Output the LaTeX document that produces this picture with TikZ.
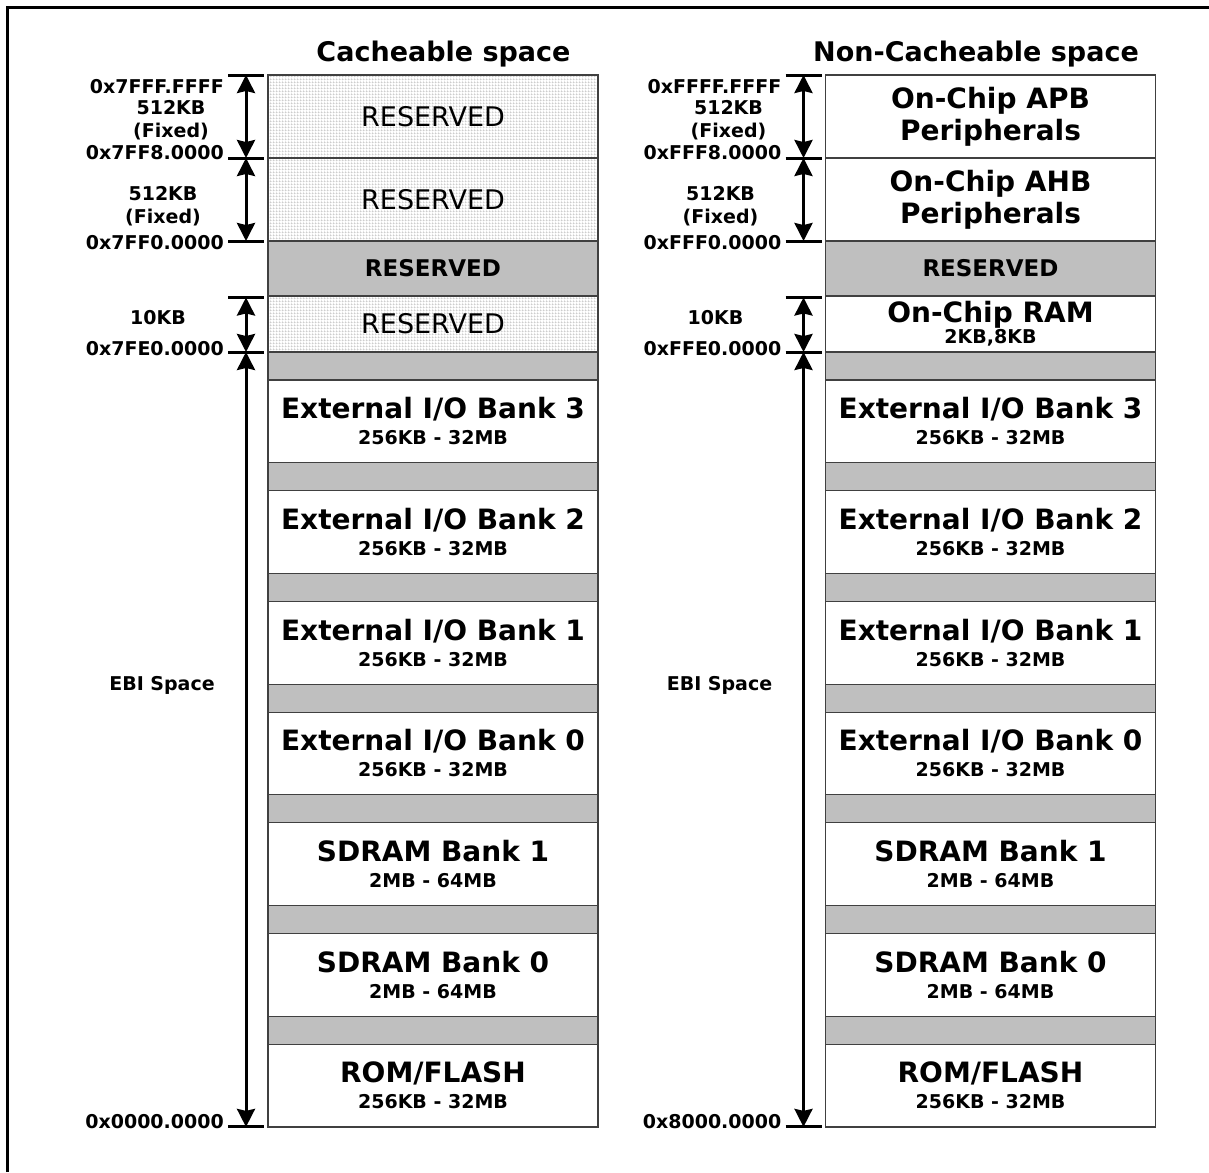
\documentclass[tikz,border=0pt]{standalone}
\usepackage{fontspec}
\setmainfont{DejaVu Sans}
\usetikzlibrary{arrows.meta, positioning, patterns}

\pgfdeclarepatternformonly{finegrid}{\pgfqpoint{0pt}{0pt}}{\pgfqpoint{3pt}{3pt}}{\pgfqpoint{3pt}{3pt}}{
    \pgfsetlinewidth{0.6pt}
    \pgfpathmoveto{\pgfqpoint{0pt}{0.3pt}}\pgfpathlineto{\pgfqpoint{3pt}{0.3pt}}
    \pgfpathmoveto{\pgfqpoint{0.3pt}{0pt}}\pgfpathlineto{\pgfqpoint{0.3pt}{3pt}}
    \pgfusepath{stroke}}

\newcommand{\sizetxt}[1]{{\fontsize{19}{21}\selectfont #1}}

\begin{document}
\begin{tikzpicture}[
            x = 1pt, y = -1pt, % pixel units, y grows downwards
            > = {Stealth[length=18pt, width=18pt, inset=2pt]}, % arrow head style
            font = \bfseries,
            cell/.style = {
                draw = black!75,
                line width = 1.2pt,
                minimum width = 330pt,
                inner sep = 0pt,
                outer sep = 0pt,
                align = center,
                font = \fontsize{28}{26}\selectfont\bfseries
            },
            grayrow/.style = {fill = black!25},
            dotrow/.style = {pattern = finegrid, pattern color = black!30,
                font = \fontsize{27}{30}\selectfont\mdseries},
            boldres/.style = {font = \fontsize{23}{26}\selectfont\bfseries},
            heading/.style = {font = \fontsize{27}{30}\selectfont\bfseries},
            tickline/.style = {line width = 3pt},
            arr/.style = {<->, line width = 3pt},
            addr/.style = {font = \fontsize{19}{23}\selectfont\bfseries,
                inner sep = 0pt, align = center}
        ]

        \useasboundingbox (0,0) rectangle (1209,1172);

        % frame
        \draw[line width = 3pt] (7.5,1172) -- (7.5,7.5) -- (1209,7.5);

        % titles
        \node[heading] (ctitle) at (443.5,54) {Cacheable space};
        \node[heading] (ntitle) at (976,54) {Non-Cacheable space};

        % cacheable space, top rows
        \node[cell, dotrow, minimum height = 83pt, anchor = north] (c1) at (433,75) {RESERVED};
        \node[cell, dotrow, minimum height = 83pt, below = 0pt of c1] (c2) {RESERVED};
        \node[cell, grayrow, boldres, minimum height = 55pt, below = 0pt of c2] (c3) {RESERVED};
        \node[cell, dotrow, minimum height = 56pt, below = 0pt of c3] (c4) {RESERVED};

        % non-cacheable space, top rows
        \node[cell, minimum height = 83pt, anchor = north] (n1) at (990.5,75) {On-Chip APB\\[4pt]Peripherals};
        \node[cell, minimum height = 83pt, below = 0pt of n1] (n2) {On-Chip AHB\\[4pt]Peripherals};
        \node[cell, grayrow, boldres, minimum height = 55pt, below = 0pt of n2] (n3) {RESERVED};
        \node[cell, minimum height = 56pt, below = 0pt of n3] (n4) {On-Chip RAM\\[-5pt]\sizetxt{2KB,8KB}};

        % EBI banks, same in both columns
        \foreach \col in {c, n} {
            \foreach \rw/\lbl/\sz [remember = \rw as \prev (initially 4)] in {
                    io3/{External I/O Bank 3}/256KB - 32MB,
                    io2/{External I/O Bank 2}/256KB - 32MB,
                    io1/{External I/O Bank 1}/256KB - 32MB,
                    io0/{External I/O Bank 0}/256KB - 32MB,
                    sd1/{SDRAM Bank 1}/2MB - 64MB,
                    sd0/{SDRAM Bank 0}/2MB - 64MB,
                    rom/{ROM/FLASH}/256KB - 32MB} {
                \node[cell, grayrow, minimum height = 28pt, below = 0pt of \col\prev] (\col g\rw) {};
                \node[cell, minimum height = 82.7pt, below = 0pt of \col g\rw] (\col\rw) {\lbl\\[0pt]\sizetxt{\sz}};
            }
        }

        % address ticks, size arrows and labels
        \foreach \col/\hi/\lo in {c/7/0000, n/F/8000} {
            \coordinate (\col-t1) at ([xshift = -22pt]\col1.north west);
            \coordinate (\col-t2) at ([xshift = -22pt]\col1.south west);
            \coordinate (\col-t3) at ([xshift = -22pt]\col2.south west);
            \coordinate (\col-t4) at ([shift = {(-22pt,-1.5pt)}]\col3.south west);
            \coordinate (\col-t5) at ([xshift = -22pt]\col4.south west);
            \coordinate (\col-t6) at ([xshift = -22pt]\col rom.south west);

            \foreach \t in {1,...,6}
                \draw[tickline] ([xshift = -18pt]\col-t\t) -- ([xshift = 18pt]\col-t\t);

            \draw[arr] (\col-t1) -- (\col-t2);
            \draw[arr] (\col-t2) -- (\col-t3);
            \draw[arr] (\col-t4) -- (\col-t5);
            \draw[arr] (\col-t5) -- (\col-t6);

            \node[addr, anchor = base east] (\col-a1) at ([shift = {(-22pt,-18pt)}]\col-t1) {0x\hi FFF.FFFF};
            \node[addr, anchor = base east] (\col-a2) at ([shift = {(-22pt,-1pt)}]\col-t2) {0x\hi FF8.0000};
            \node[addr, anchor = east] (\col-a3) at ([shift = {(-22pt,-2pt)}]\col-t3) {0x\hi FF0.0000};
            \node[addr, anchor = base east] (\col-a5) at ([shift = {(-22pt,-3pt)}]\col-t5) {0x\hi FE0.0000};
            \node[addr, anchor = base east] (\col-a6) at ([shift = {(-22pt,-2pt)}]\col-t6) {0x\lo.0000};

            \node[addr] (\col-s1) at ([shift = {(-75pt,-45pt)}]\col-t1) {512KB\\(Fixed)};
            \node[addr] (\col-s2) at ([shift = {(-83pt,-48.5pt)}]\col-t2) {512KB\\(Fixed)};
            \node[addr] (\col-s3) at ([shift = {(-88pt,-20pt)}]\col-t4) {10KB};
            \node[addr] (\col-s4) at ([shift = {(-84pt,-333pt)}]\col-t5) {EBI Space};
        }

\end{tikzpicture}
\end{document}
